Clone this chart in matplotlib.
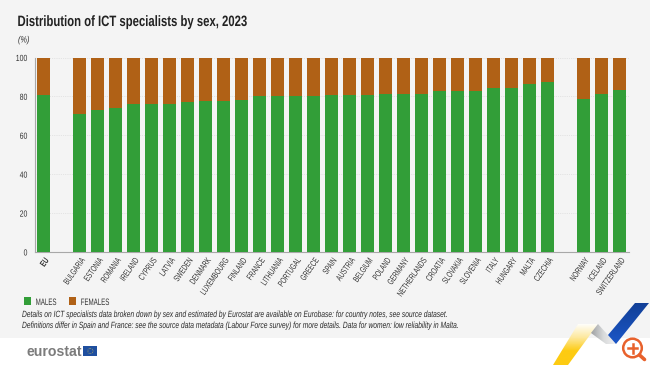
import matplotlib
matplotlib.use("Agg")
import matplotlib.pyplot as plt
import numpy as np
from matplotlib.colors import LinearSegmentedColormap
from matplotlib.patches import Polygon, Rectangle, Circle
from matplotlib.patheffects import AbstractPathEffect
from matplotlib.transforms import Affine2D

countries = ["EU", "BULGARIA", "ESTONIA", "ROMANIA", "IRELAND", "CYPRUS", "LATVIA", "SWEDEN",
             "DENMARK", "LUXEMBOURG", "FINLAND", "FRANCE", "LITHUANIA", "PORTUGAL", "GREECE",
             "SPAIN", "AUSTRIA", "BELGIUM", "POLAND", "GERMANY", "NETHERLANDS", "CROATIA",
             "SLOVAKIA", "SLOVENIA", "ITALY", "HUNGARY", "MALTA", "CZECHIA",
             "NORWAY", "ICELAND", "SWITZERLAND"]
slots = [0] + list(range(2, 29)) + [30, 31, 32]
males = [80.7, 71.0, 73.2, 74.0, 75.9, 76.1, 76.1, 77.3, 77.4, 77.6, 78.0, 80.0, 80.0, 80.0, 80.2,
         80.5, 80.5, 80.7, 81.0, 81.1, 81.2, 82.6, 82.6, 82.9, 84.4, 84.4, 86.3, 87.5,
         78.8, 81.4, 83.4]
females = [100 - m for m in males]
y_ticks = [0, 20, 40, 60, 80, 100]

GREEN = "#329e38"
BROWN = "#b06116"
TEXT = "#333333"
FONT = "Liberation Sans"


# no condensed font is installed, so squeeze the glyphs of normal text sideways
class Squeeze(AbstractPathEffect):
    def __init__(self, sx, right=False):
        super().__init__()
        self.sx = sx
        self.right = right

    def draw_path(self, renderer, gc, tpath, affine, rgbFace=None):
        x0 = tpath.get_extents().x1 if self.right else 0
        squeeze = Affine2D().translate(-x0, 0).scale(self.sx, 1).translate(x0, 0)
        renderer.draw_path(gc, tpath, squeeze + affine, rgbFace)


def gradient(ax, extent, colors, clip, vertical=True):
    data = np.linspace(0, 1, 64).reshape(-1, 1) if vertical else np.linspace(0, 1, 64).reshape(1, -1)
    im = ax.imshow(data, extent=extent, aspect="auto", zorder=2,
                   cmap=LinearSegmentedColormap.from_list("g", colors))
    im.set_clip_path(Polygon(clip, transform=ax.transData))


fig = plt.figure(figsize=(6.5, 3.65), dpi=100, facecolor="white")

# page furniture is placed in pixel coordinates on a full-size axes
bg = fig.add_axes([0, 0, 1, 1], zorder=0)
bg.add_patch(Rectangle((0, 0), 650, 337.5, color="#f4f4f4", lw=0))

t = bg.text(17.5, 26, "Distribution of ICT specialists by sex, 2023", family=FONT, fontsize=10.8,
            fontweight="bold", color="#222222")
t.set_path_effects([Squeeze(0.755)])
t = bg.text(18, 42.5, "(%)", family=FONT, fontsize=6.6, style="italic", color=TEXT)
t.set_path_effects([Squeeze(0.8)])

bg.add_patch(Rectangle((24, 297.3), 7.4, 7.4, color=GREEN, lw=0))
t = bg.text(35.7, 305, "MALES", family=FONT, fontsize=6.7, color=TEXT)
t.set_path_effects([Squeeze(0.66)])
bg.add_patch(Rectangle((68.7, 297.3), 7.4, 7.4, color=BROWN, lw=0))
t = bg.text(80.7, 305, "FEMALES", family=FONT, fontsize=6.7, color=TEXT)
t.set_path_effects([Squeeze(0.66)])

t = bg.text(22, 317, "Details on ICT specialists data broken down by sex and estimated by Eurostat are "
            "available on Eurobase: for country notes, see source dataset.", family=FONT, fontsize=6.5,
            style="italic", color="#2a2a2a")
t.set_path_effects([Squeeze(0.74)])
t = bg.text(22, 328, "Definitions differ in Spain and France: see the source data metadata (Labour Force "
            "survey) for more details. Data for women: low reliability in Malta.", family=FONT,
            fontsize=6.5, style="italic", color="#2a2a2a")
t.set_path_effects([Squeeze(0.74)])

# logo
bg.text(26.5, 356, "eurostat", family=FONT, fontsize=10.2, fontweight="bold", color="#7c7c7c")
bg.add_patch(Rectangle((83.4, 346), 14, 9.8, color="#1f4f9f", lw=0))
bg.add_patch(Circle((90.4, 351), 2.6, fill=False, ec="#e8c84a", lw=0.5, ls=":"))

# corner decoration
gradient(bg, (550, 600, 365, 323), ["#ffffff", "#fde9a0", "#fdcb12", "#fdcb12"],
         [(553, 365), (578, 324), (598, 324), (568, 365)])
gradient(bg, (590, 617, 345, 323), ["#9a9c9e", "#d8dadb", "#f4f4f4"],
         [(598, 324), (591, 333), (606, 344), (616, 344)], vertical=False)
gradient(bg, (607, 650, 345, 302), ["#123f96", "#1b57c8"],
         [(635, 303), (649, 303), (616, 344), (608, 335)])
bg.add_patch(Circle((632.5, 348), 9.3, fill=False, ec="#e8612c", lw=1.8, zorder=4))
bg.plot([639.5, 644.5], [355, 359.5], color="#e8612c", lw=2.6, solid_capstyle="round", zorder=4)
bg.plot([628, 637], [348, 348], color="#e8612c", lw=1.8, zorder=4)
bg.plot([632.5, 632.5], [343.5, 352.5], color="#e8612c", lw=1.8, zorder=4)

bg.set_xlim(0, 650)
bg.set_ylim(365, 0)
bg.axis("off")

# chart
ax = fig.add_axes([34.5 / 650, 1 - 252 / 365, (628.5 - 34.5) / 650, (252 - 57.5) / 365], zorder=1)
ax.patch.set_alpha(0)
ax.bar(slots, males, width=0.72, color=GREEN, zorder=3)
ax.bar(slots, females, width=0.72, bottom=males, color=BROWN, zorder=3)
ax.set_xlim(-0.5, 32.5)
ax.set_ylim(0, 100)
ax.set_yticks(y_ticks)
ax.tick_params(axis="y", length=0, pad=5, labelsize=6.4, labelcolor=TEXT)
ax.grid(axis="y", color="#d4d4d4", lw=0.5, ls=":", zorder=0)
ax.set_axisbelow(True)
for s in ["top", "right"]:
    ax.spines[s].set_visible(False)
for s in ["left", "bottom"]:
    ax.spines[s].set_color("#a8a8a8")
    ax.spines[s].set_linewidth(0.8)

ax.set_xticks(slots)
ax.set_xticklabels(countries, rotation=55, ha="right", rotation_mode="anchor", family=FONT, fontsize=6.4,
                   color=TEXT)
ax.get_xticklabels()[0].set_fontweight("bold")
ax.tick_params(axis="x", length=0, pad=3)
for label in ax.get_xticklabels():
    label.set_path_effects([Squeeze(0.68, right=True)])
for label in ax.get_yticklabels():
    label.set_family(FONT)
    label.set_path_effects([Squeeze(0.78, right=True)])

fig.savefig("out.png", dpi=100)
